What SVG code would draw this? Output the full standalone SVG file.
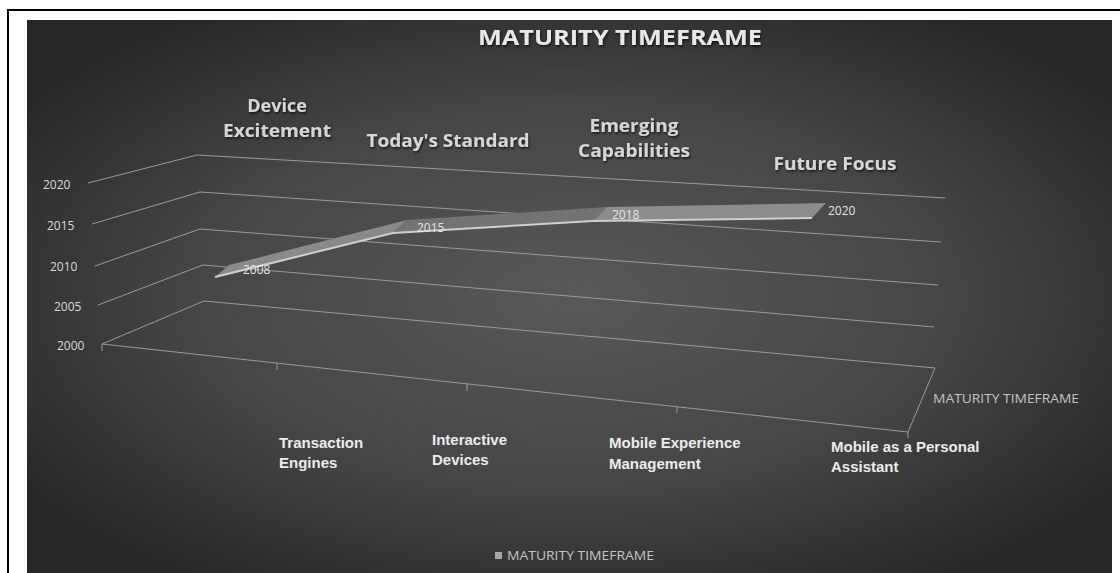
<svg xmlns="http://www.w3.org/2000/svg" width="1120" height="573" viewBox="0 0 1120 573">
<defs>
<radialGradient id="bg" cx="0.5" cy="0.5" r="0.62">
<stop offset="0" stop-color="#585858"/>
<stop offset="0.55" stop-color="#464646"/>
<stop offset="1" stop-color="#262626"/>
</radialGradient>
<filter id="sh" x="-5%" y="-20%" width="110%" height="140%">
<feDropShadow dx="1" dy="1.5" stdDeviation="1" flood-color="#000" flood-opacity="0.7"/>
</filter>
</defs>
<style>
.grid{stroke:#9a9a9a;stroke-width:1;fill:none}
.ytick{font-family:"Open Sans","Liberation Sans",sans-serif;font-size:12px;fill:#d9d9d9}
.val{font-family:"Open Sans","Liberation Sans",sans-serif;font-size:12px;fill:#e6e6e6}
.phase{font-family:"Open Sans","Liberation Sans",sans-serif;font-size:18px;font-weight:bold;fill:#d6d6d6}
.cat{font-family:"Liberation Sans",Arial,sans-serif;font-size:15px;font-weight:bold;fill:#ececec}
.small{font-family:"Open Sans","Liberation Sans",sans-serif;font-size:12px;fill:#c4c4c4}
.title{font-family:"Open Sans","Liberation Sans",sans-serif;font-size:22px;font-weight:bold;fill:#e8e8e8}
</style>
<rect x="0" y="0" width="1120" height="573" fill="#ffffff"/>
<rect x="27" y="20" width="1085" height="553" fill="url(#bg)"/>
<path d="M8 573 V10 H1120" fill="none" stroke="#000" stroke-width="2"/>

<g id="title" filter="url(#sh)">
<text class="title" x="620" y="45" text-anchor="middle" textLength="284" lengthAdjust="spacingAndGlyphs">MATURITY  TIMEFRAME</text>
</g>

<g id="grid">
<polyline class="grid" points="88,183 197,155 945,198"/>
<polyline class="grid" points="92,224 200,192 941,242"/>
<polyline class="grid" points="95,266 200,229 938,285"/>
<polyline class="grid" points="98,305 203,265 934,327"/>
<polyline class="grid" points="102,344 204,301 935,368 908,432 102,344"/>
<path class="grid" d="M102,344 V351 M277,363 V370 M467,384 V391 M677,407 V413 M908,432 V438"/>
</g>

<g id="y-axis">
<text class="ytick" x="43" y="189">2020</text>
<text class="ytick" x="47" y="230">2015</text>
<text class="ytick" x="50" y="271">2010</text>
<text class="ytick" x="54" y="311">2005</text>
<text class="ytick" x="57" y="350">2000</text>
</g>

<g id="series">
<polygon points="215,277 393,233 407,220 229,265" fill="#8a8a8a"/>
<polygon points="393,233 593,221 607,207 407,220" fill="#737373"/>
<polygon points="593,221 812,218 826,203 607,207" fill="#8c8c8c"/>
<polyline points="215,277 393,233 593,221 812,218" fill="none" stroke="#cfcfcf" stroke-width="2"/>
<text class="val" x="243" y="274">2008</text>
<text class="val" x="417" y="232">2015</text>
<text class="val" x="612" y="219">2018</text>
<text class="val" x="828" y="215">2020</text>
</g>

<g id="phase-device-excitement" filter="url(#sh)">
<text class="phase" x="277" y="112" text-anchor="middle">Device</text>
<text class="phase" x="277" y="137" text-anchor="middle" textLength="108" lengthAdjust="spacingAndGlyphs">Excitement</text>
</g>
<g id="phase-todays-standard" filter="url(#sh)">
<text class="phase" x="448" y="147" text-anchor="middle" textLength="163" lengthAdjust="spacingAndGlyphs">Today's Standard</text>
</g>
<g id="phase-emerging" filter="url(#sh)">
<text class="phase" x="634" y="132" text-anchor="middle" textLength="89" lengthAdjust="spacingAndGlyphs">Emerging</text>
<text class="phase" x="634" y="157" text-anchor="middle" textLength="112" lengthAdjust="spacingAndGlyphs">Capabilities</text>
</g>
<g id="phase-future-focus" filter="url(#sh)">
<text class="phase" x="835" y="170" text-anchor="middle" textLength="123" lengthAdjust="spacingAndGlyphs">Future Focus</text>
</g>

<g id="categories">
<text class="cat" x="279" y="448">Transaction</text>
<text class="cat" x="279" y="468">Engines</text>
<text class="cat" x="432" y="445">Interactive</text>
<text class="cat" x="432" y="465">Devices</text>
<text class="cat" x="609" y="448">Mobile Experience</text>
<text class="cat" x="609" y="469">Management</text>
<text class="cat" x="831" y="452">Mobile as a Personal</text>
<text class="cat" x="831" y="472">Assistant</text>
</g>

<g id="series-axis">
<text class="small" x="933" y="403" textLength="146" lengthAdjust="spacingAndGlyphs">MATURITY TIMEFRAME</text>
</g>

<g id="legend">
<rect x="495" y="552" width="7" height="7" fill="#a6a6a6"/>
<text class="small" x="507" y="560" textLength="147" lengthAdjust="spacingAndGlyphs">MATURITY TIMEFRAME</text>
</g>
</svg>
